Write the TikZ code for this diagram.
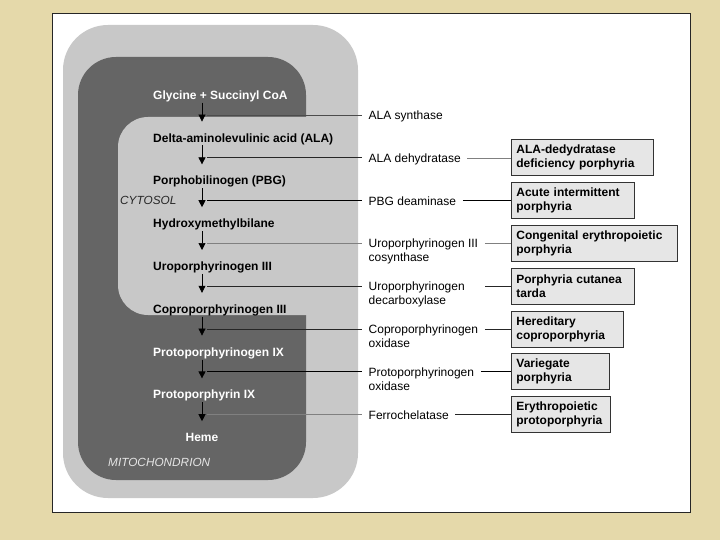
\documentclass[tikz,border=0pt]{standalone}
\usepackage{fontspec}
\setmainfont{Liberation Sans}
\usetikzlibrary{arrows,arrows.meta,positioning,calc}
\definecolor{parch}{RGB}{229,217,170}
\definecolor{cyto}{RGB}{200,200,200}
\definecolor{mito}{RGB}{101,101,101}
\definecolor{boxgray}{RGB}{230,230,230}

\begin{document}
\begin{tikzpicture}
[x=1pt,y=-1pt,
compound/.style={anchor=west,font=\fontsize{12}{14}\selectfont\bfseries,inner xsep=0pt,inner ysep=1.75pt,text height=10pt,text depth=1.5pt},
enzyme/.style={anchor=north west,font=\fontsize{12}{14}\selectfont,align=left,inner xsep=6.5pt,inner ysep=0pt},
disease/.style={anchor=west,draw=black!80,fill=boxgray,line width=.8pt,font=\fontsize{12}{14}\selectfont\bfseries,align=left,inner xsep=5pt,minimum height=36pt},
region/.style={font=\fontsize{11.8}{14}\selectfont\itshape,anchor=west,inner sep=0pt},
flow/.style={line width=.7pt,-{Triangle[length=7pt,width=7pt]},shorten >=8.5pt},
faint/.style={line width=.5pt,draw=black!50},
plain/.style={line width=.8pt,draw=black!85},
heavy/.style={line width=1.2pt,draw=black}]
\useasboundingbox (0,0) rectangle (720,540);
\fill[parch] (0,0) rectangle (720,540);
\draw[fill=white,draw=black!85,line width=.8pt] (52,13) rectangle (690,512);
\fill[cyto,rounded corners=45pt] (63,25) rectangle (358,498);
\fill[mito,rounded corners=38pt] (78,57) rectangle (306,480);
\fill[cyto,rounded corners=30pt] (330,117) -- (118,117) -- (118,315) -- (330,315);

\node[region,black!85] (cytosol) at (120,200) {CYTOSOL};
\node[region,white!90!black] (mitochondrion) at (108,462) {MITOCHONDRION};

\node[compound,white] (gly) at (153,95) {Glycine + Succinyl CoA};
\node[compound] (ala) at (153,137.8) {Delta-aminolevulinic acid (ALA)};
\node[compound] (pbg) at (153,180.6) {Porphobilinogen (PBG)};
\node[compound] (hmb) at (153,223.4) {Hydroxymethylbilane};
\node[compound] (urogen) at (153,266.2) {Uroporphyrinogen III};
\node[compound] (coprogen) at (153,309) {Coproporphyrinogen III};
\node[compound,white] (protogen) at (153,351.8) {Protoporphyrinogen IX};
\node[compound,white] (proto) at (153,394.6) {Protoporphyrin IX};
\node[compound,white,anchor=center] (heme) at (202,437.4) {Heme};

\draw[flow] ([xshift=49pt]gly.south west) -- ([xshift=49pt]ala.north west);
\draw[flow] ([xshift=49pt]ala.south west) -- ([xshift=49pt]pbg.north west);
\draw[flow] ([xshift=49pt]pbg.south west) -- ([xshift=49pt]hmb.north west);
\draw[flow] ([xshift=49pt]hmb.south west) -- ([xshift=49pt]urogen.north west);
\draw[flow] ([xshift=49pt]urogen.south west) -- ([xshift=49pt]coprogen.north west);
\draw[flow] ([xshift=49pt]coprogen.south west) -- ([xshift=49pt]protogen.north west);
\draw[flow] ([xshift=49pt]protogen.south west) -- ([xshift=49pt]proto.north west);
\draw[flow] ([xshift=49pt]proto.south west) -- (heme.north);

\coordinate (b1) at (207,115);
\coordinate (b2) at (207,157.8);
\coordinate (b3) at (207,200.6);
\coordinate (b4) at (207,243.4);
\coordinate (b5) at (207,286.2);
\coordinate (b6) at (207,329);
\coordinate (b7) at (207,371.8);
\coordinate (b8) at (207,414.6);

\node[enzyme] (e1) at (362,110.6) {ALA synthase};
\node[enzyme] (e2) at (362,153.4) {ALA dehydratase};
\node[enzyme] (e3) at (362,196.2) {PBG deaminase};
\node[enzyme] (e4) at (362,239) {Uroporphyrinogen III\\cosynthase};
\node[enzyme] (e5) at (362,281.8) {Uroporphyrinogen\\decarboxylase};
\node[enzyme] (e6) at (362,324.6) {Coproporphyrinogen\\oxidase};
\node[enzyme] (e7) at (362,367.4) {Protoporphyrinogen\\oxidase};
\node[enzyme] (e8) at (362,410.2) {Ferrochelatase};

\node[disease,text width=132pt] (d1) at (511,157.8) {ALA-dedydratase\\deficiency porphyria};
\node[disease,text width=113pt] (d2) at (511,200.6) {Acute intermittent\\porphyria};
\node[disease,text width=156pt] (d3) at (511,243.4) {Congenital erythropoietic\\porphyria};
\node[disease,text width=113pt] (d4) at (511,286.2) {Porphyria cutanea\\tarda};
\node[disease,text width=102pt] (d5) at (511,329) {Hereditary\\coproporphyria};
\node[disease,text width=88pt] (d6) at (511,371.8) {Variegate\\porphyria};
\node[disease,text width=89pt] (d7) at (511,414.6) {Erythropoietic\\protoporphyria};

\draw[plain,line width=.6pt,black!70] (b1) -- (e1.west |- b1);
\draw[plain] (b2) -- (e2.west |- b2);
\draw[heavy] (b3) -- (e3.west |- b3);
\draw[faint] (b4) -- (e4.west |- b4);
\draw[plain] (b5) -- (e5.west |- b5);
\draw[plain,line width=.6pt] (b6) -- (e6.west |- b6);
\draw[heavy] (b7) -- (e7.west |- b7);
\draw[faint] (b8) -- (e8.west |- b8);

\draw[faint] (e2.east |- d1) -- (d1.west);
\draw[heavy,line width=1.4pt] (e3.east |- d2) -- (d2.west);
\draw[faint] (e4.east |- d3) -- (d3.west);
\draw[plain,line width=.6pt,shorten <=14pt] (e5.east |- d4) -- (d4.west);
\draw[plain,line width=.6pt] (e6.east |- d5) -- (d5.west);
\draw[heavy] (e7.east |- d6) -- (d6.west);
\draw[plain] (e8.east |- d7) -- (d7.west);
\end{tikzpicture}
\end{document}
